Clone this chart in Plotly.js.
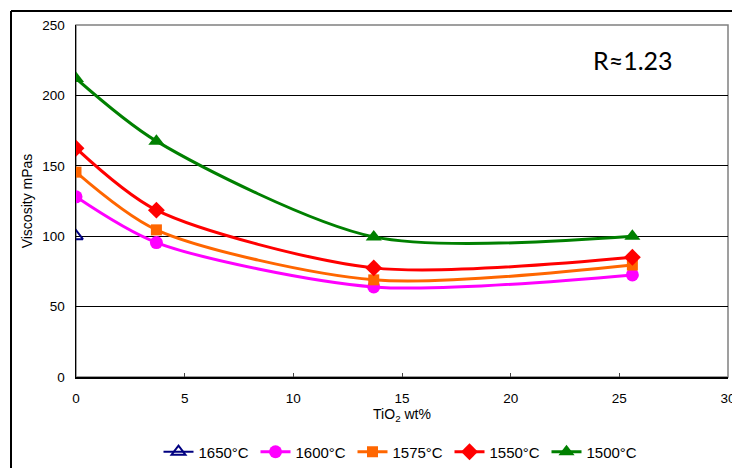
<!DOCTYPE html>
<html>
<head>
<meta charset="utf-8">
<script src="https://cdn.plot.ly/plotly-3.0.1.min.js"></script>
<style>html,body{margin:0;padding:0;background:#fff;}</style>
</head>
<body>
<div id="chart" style="width:732px;height:468px;"></div>
<script>
const tio2 = [0, 3.7, 13.7, 25.6];
const t1650x = [0];
const t1650 = [100];
const t1600 = [128, 95.5, 64, 72.5];
const t1575 = [145.5, 104.5, 69, 79.5];
const t1550 = [162.5, 118.5, 77.5, 85];
const t1500 = [212, 167.5, 99.5, 100];
const names = ['1650°C', '1600°C', '1575°C', '1550°C', '1500°C'];
const colors = ['#000080', '#ff00ff', '#ff6600', '#ff0000', '#008000'];

const L = 76, R = 728, T = 25, B = 377;
const W = 732, H = 468;
const pw = R - L, ph = B - T;
const px = v => (v - L) / pw;
const py = v => (B - v) / ph;

function tr(x, y, i, sym, size, extra) {
  return Object.assign({
    x: x, y: y, name: names[i], type: 'scatter', mode: 'lines+markers',
    line: {color: colors[i], width: 3, shape: 'spline', smoothing: 0.8},
    marker: {symbol: sym, size: size, color: colors[i]}
  }, extra || {});
}

const data = [
  tr(t1650x, t1650, 0, 'triangle-up-open', 12, {line: {color: colors[0], width: 2}, marker: {symbol: 'triangle-up-open', size: 12, color: colors[0], line: {width: 2, color: colors[0]}}}),
  tr(tio2, t1600, 1, 'circle', 13),
  tr(tio2, t1575, 2, 'square', 11),
  tr(tio2, t1550, 3, 'diamond', 13),
  tr(tio2, t1500, 4, 'triangle-up', 14)
];

const layout = {
  width: W, height: H,
  margin: {l: L, r: W - R, t: T, b: H - B, autoexpand: false},
  paper_bgcolor: '#fff', plot_bgcolor: '#fff',
  font: {family: 'Liberation Sans, Arial, sans-serif', size: 13.5, color: '#000'},
  showlegend: true,
  legend: {orientation: 'h', x: px(401), xanchor: 'center', y: py(452), yanchor: 'middle',
           font: {size: 15}, itemwidth: 30, entrywidth: 52, entrywidthmode: 'pixels',
           tracegroupgap: 0, bgcolor: 'rgba(0,0,0,0)'},
  xaxis: {
    range: [0, 30], dtick: 5, tick0: 0, showgrid: false, zeroline: false,
    showline: true, linecolor: '#000', linewidth: 1.5,
    ticks: 'inside', ticklen: 4, tickcolor: '#444',
    tickfont: {size: 13.5}, ticklabelstandoff: 8, ticklabeloverflow: 'allow',
    title: {text: 'TiO<sub>2</sub> wt%', font: {size: 14}, standoff: 1}
  },
  yaxis: {
    range: [0, 250], dtick: 50, showgrid: true, gridcolor: '#000', gridwidth: 1,
    zeroline: false, showline: true, linecolor: '#000', linewidth: 1.5,
    ticks: '', tickfont: {size: 13.5}, ticklabelstandoff: 7,
    title: {text: 'Viscosity mPas', font: {size: 14}, standoff: 6}
  },
  shapes: [
    {type: 'rect', xref: 'paper', yref: 'paper', x0: 0, x1: 1, y0: 0, y1: 1,
     line: {color: '#808080', width: 1.5}, layer: 'below'},
    {type: 'line', xref: 'paper', yref: 'paper', x0: px(11), x1: 1.1, y0: py(11), y1: py(11),
     line: {color: '#000', width: 2}},
    {type: 'line', xref: 'paper', yref: 'paper', x0: px(11), x1: px(11), y0: py(11), y1: py(480),
     line: {color: '#000', width: 2}}
  ],
  annotations: [
    {xref: 'paper', yref: 'paper', x: px(633), y: py(60), text: 'R≈1.23', showarrow: false,
     font: {family: 'Lato, Carlito, sans-serif', size: 25, color: '#000'}, xanchor: 'center', yanchor: 'middle'}
  ]
};

Plotly.newPlot('chart', data, layout, {displayModeBar: false, staticPlot: true});
</script>
</body>
</html>
